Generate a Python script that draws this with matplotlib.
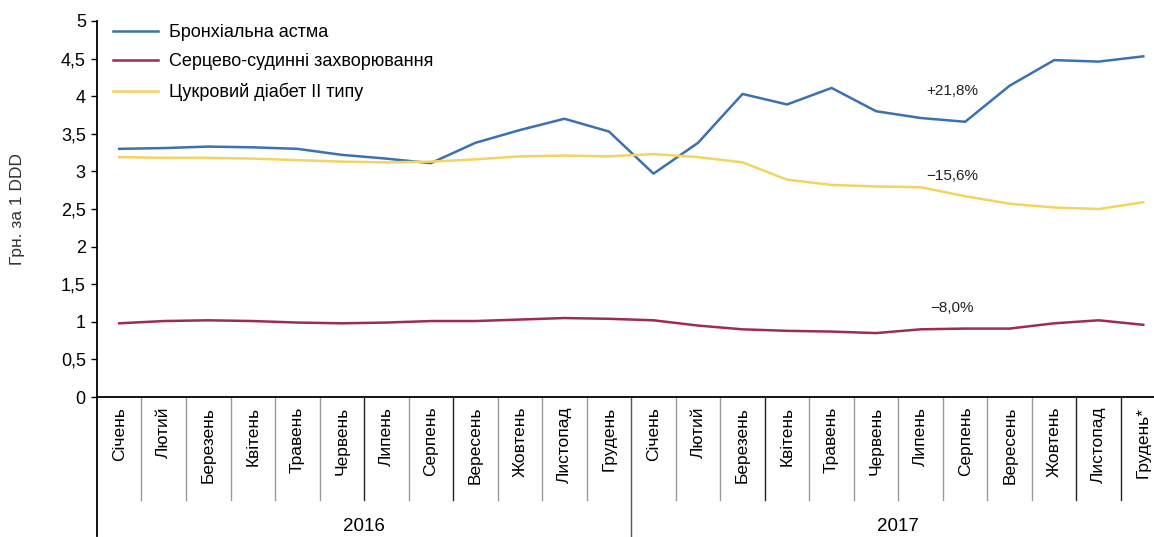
import numpy as np
import matplotlib
matplotlib.use("Agg")
import matplotlib.pyplot as plt

plt.rcParams['font.family'] = ['Liberation Sans', 'DejaVu Sans']

months = ['Січень', 'Лютий', 'Березень', 'Квітень', 'Травень', 'Червень',
          'Липень', 'Серпень', 'Вересень', 'Жовтень', 'Листопад', 'Грудень']
month_labels = months + months[:-1] + ['Грудень*']
years = ['2016', '2017']

asthma = [3.30, 3.31, 3.33, 3.32, 3.30, 3.22, 3.17, 3.11, 3.38, 3.55, 3.70, 3.53,
          2.97, 3.38, 4.03, 3.89, 4.11, 3.80, 3.71, 3.66, 4.14, 4.48, 4.46, 4.53]
cardio = [0.98, 1.01, 1.02, 1.01, 0.99, 0.98, 0.99, 1.01, 1.01, 1.03, 1.05, 1.04,
          1.02, 0.95, 0.90, 0.88, 0.87, 0.85, 0.90, 0.91, 0.91, 0.98, 1.02, 0.96]
diabetes = [3.19, 3.18, 3.18, 3.17, 3.15, 3.13, 3.12, 3.13, 3.16, 3.20, 3.21, 3.20,
            3.23, 3.19, 3.12, 2.89, 2.82, 2.80, 2.79, 2.67, 2.57, 2.52, 2.50, 2.59]

names = ['Бронхіальна астма', 'Серцево-судинні захворювання', 'Цукровий діабет II типу']
changes = ['+21,8%', '\u221215,6%', '\u22128,0%']
change_pos = [(18.7, 4.07), (18.7, 2.94), (18.7, 1.18)]

fig = plt.figure(figsize=(11.54, 5.37), dpi=100)
ax = fig.add_axes([0.084, 0.2607, 0.926, 0.7002])

x = np.arange(len(month_labels))
ax.plot(x, asthma, color='#3b70b3', lw=1.8, label=names[0])
ax.plot(x, cardio, color='#9c2c55', lw=1.8, label=names[1])
ax.plot(x, diabetes, color='#f4d35e', lw=1.8, label=names[2])

for (tx, ty), t in zip(change_pos, changes):
    ax.text(tx, ty, t, fontsize=11, ha='center', va='center', color='#222222')

ax.set_xlim(-0.5, len(month_labels) - 0.5)
ax.set_ylim(0, 5)
ax.set_yticks(np.arange(0, 5.01, 0.5))
ax.set_yticklabels([('%g' % v).replace('.', ',') for v in np.arange(0, 5.01, 0.5)], fontsize=13)
ax.set_xticks(x)
ax.set_xticklabels(month_labels, rotation=90, fontsize=12.5, va='top')
ax.tick_params(axis='x', length=0, pad=7)
ax.tick_params(axis='y', length=4, width=1, direction='out', pad=4)
ax.set_ylabel('Грн. за 1 DDD', fontsize=12.5, color='#333333', labelpad=26)

for s in ['top', 'right']:
    ax.spines[s].set_visible(False)
ax.spines['left'].set_bounds(-1.85, 5)
ax.spines['bottom'].set_linewidth(1.3)
ax.spines['left'].set_linewidth(1.3)

# separators under the axis
dark = [5.5, 7.5, 14.5, 21.5, 22.5]
for b in np.arange(0.5, len(month_labels) - 0.5, 1):
    if b == 11.5:
        ax.plot([b, b], [0, -1.85], color='#555555', lw=1.0, clip_on=False)
    else:
        c = '#222222' if b in dark else '#999999'
        ax.plot([b, b], [0, -1.37], color=c, lw=1.0, clip_on=False)

ax.text(5.5, -1.72, years[0], ha='center', va='center', fontsize=13.5)
ax.text(17.5, -1.72, years[1], ha='center', va='center', fontsize=13.5)

leg = ax.legend(loc='upper left', bbox_to_anchor=(0.0, 1.035), frameon=False,
                fontsize=13, handlelength=2.5, handletextpad=0.6, labelspacing=0.68)

fig.savefig('out.png', dpi=100)
